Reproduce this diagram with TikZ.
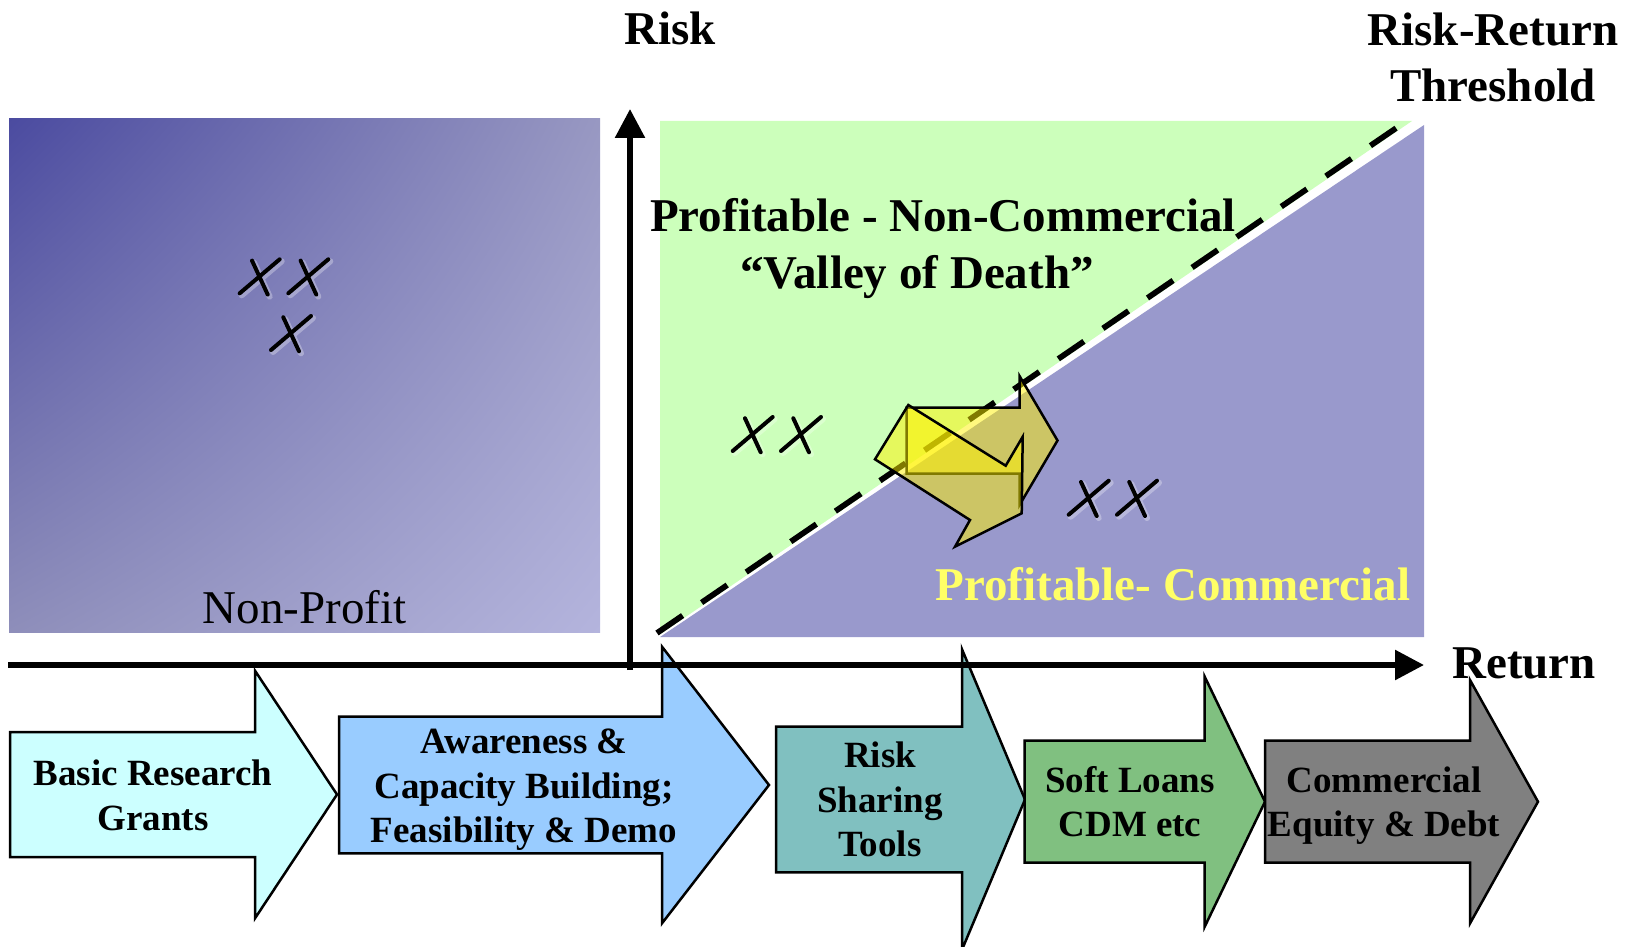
\documentclass[tikz,border=0pt]{standalone}
\usepackage{fontspec}
\setmainfont{Liberation Serif}
\usetikzlibrary{arrows.meta, shadings}

\definecolor{npdark}{RGB}{75,75,160}
\definecolor{npmidA}{RGB}{152,152,194}
\definecolor{npmidB}{RGB}{142,142,186}
\definecolor{nplight}{RGB}{180,180,221}
\definecolor{noncomm}{RGB}{204,255,187}
\definecolor{comm}{RGB}{153,153,204}
\definecolor{commtext}{RGB}{255,255,102}
\definecolor{grantfill}{RGB}{204,255,255}
\definecolor{demofill}{RGB}{153,204,255}
\definecolor{riskfill}{RGB}{128,192,192}
\definecolor{loanfill}{RGB}{128,192,128}
\definecolor{equityfill}{RGB}{128,128,128}

\begin{document}
\begin{tikzpicture}[x=1pt, y=-1pt,
    stage/.style={draw=black, line width=2.5pt, line join=miter},
    stagelabel/.style={font=\fontsize{37}{44.5}\selectfont\bfseries, align=center, inner sep=0pt, anchor=base},
    biglabel/.style={font=\fontsize{47}{56}\selectfont\bfseries, align=center, inner sep=0pt, anchor=base},
    axisline/.style={line width=5.7pt, -{Triangle[length=29pt, width=29pt]}},
    shiftarrow/.style={draw=black, line width=2.5pt, fill=yellow, fill opacity=0.5, line join=miter},
    xmark/.pic={
      \draw[white, opacity=0.3, line width=6pt, line cap=round] (-18,19) -- (22,-15) (-5.7,-13.7) -- (10,20.3);
      \draw[black, line width=4pt, line cap=round] (-20,17) -- (20,-17) (-7.7,-15.7) -- (8,18.3);
    }]
  \useasboundingbox (0,0) rectangle (1635,947);

  % regions
  \shade[upper left=npdark, upper right=npmidA, lower left=npmidB, lower right=nplight]
    (9,118.6) rectangle (600,632.7);
  \fill[noncomm] (660,121) -- (1412,121) -- (660,634.4) -- cycle;
  \fill[comm] (660,637) -- (1424,637) -- (1424,125) -- cycle;
  \coordinate (thlow) at (657,633);
  \coordinate (thhigh) at (1408,120);
  \draw[line width=5.7pt, dash pattern=on 31pt off 23pt] (thlow) -- (thhigh);

  % project marks
  \pic at (259.7,276.3) {xmark};
  \pic at (308.3,276.3) {xmark};
  \pic at (291,333) {xmark};
  \pic at (752.7,434) {xmark};
  \pic at (801,434) {xmark};
  \pic at (1088.7,497.7) {xmark};
  \pic at (1137,497.7) {xmark};

  % shift across the threshold
  \draw[shiftarrow] (906.5,407.5) -- (1019.5,407.5) -- (1019.5,376) -- (1057.5,440.5)
    -- (1019.5,505) -- (1019.5,473.5) -- (906.5,473.5) -- cycle;
  \draw[shiftarrow] (908.3,405) -- (1005.7,465.7) -- (1022.7,436.7) -- (1021.7,513.3)
    -- (955,546.7) -- (970,520) -- (875,459.3) -- cycle;

  % region labels
  \node[font=\fontsize{47}{56}\selectfont, inner sep=0pt, anchor=base] (nonprofit) at (304.5,623) {Non-Profit};
  \node[biglabel] (noncommlabel) at (943,231) {Profitable - Non-Commercial};
  \node[biglabel] (valley) at (917,288) {“Valley of Death”};
  \node[biglabel, text=commtext] (commlabel) at (1173,600) {Profitable- Commercial};
  \node[biglabel] (threshold) at (1493,102) {Risk-Return\\Threshold};

  % financing stages
  \draw[stage, fill=grantfill] (10,732) -- (255,732) -- (255,670.7) -- (337,794.5)
    -- (255,918.3) -- (255,857) -- (10,857) -- cycle;
  \draw[stage, fill=demofill] (339,716.7) -- (662,716.7) -- (662,646.7) -- (769,785)
    -- (662,923.3) -- (662,853.3) -- (339,853.3) -- cycle;
  \draw[stage, fill=riskfill] (776,726.7) -- (962,726.7) -- (962,649.3) -- (1025,799.5)
    -- (962,949.7) -- (962,872.3) -- (776,872.3) -- cycle;
  \draw[stage, fill=loanfill] (1024.6,740.7) -- (1204.7,740.7) -- (1204.7,676.7) -- (1265,801.7)
    -- (1204.7,926.7) -- (1204.7,862.7) -- (1024.6,862.7) -- cycle;
  \draw[stage, fill=equityfill] (1265,740.7) -- (1470,740.7) -- (1470,680) -- (1538,801.7)
    -- (1470,923.4) -- (1470,862.7) -- (1265,862.7) -- cycle;

  \node[stagelabel] (grants) at (153,830) {Basic Research\\Grants};
  \node[stagelabel] (demo) at (524,842.7) {Awareness \&\\Capacity Building;\\Feasibility \& Demo};
  \node[stagelabel] (sharing) at (880,856.7) {Risk\\Sharing\\Tools};
  \node[stagelabel] (loans) at (1130,836.7) {Soft Loans\\CDM etc};
  \node[stagelabel] (equity) at (1384,836.7) {Commercial\\Equity \& Debt};

  % axes
  \coordinate (origin) at (630,670);
  \coordinate (riskend) at (630,109);
  \coordinate (start) at (8,665);
  \coordinate (returnend) at (1424,665);
  \draw[axisline] (origin) -- (riskend);
  \draw[axisline] (start) -- (returnend);
  \node[biglabel] (risk) at (670,45) {Risk};
  \node[biglabel] (return) at (1524,678) {Return};
\end{tikzpicture}
\end{document}
